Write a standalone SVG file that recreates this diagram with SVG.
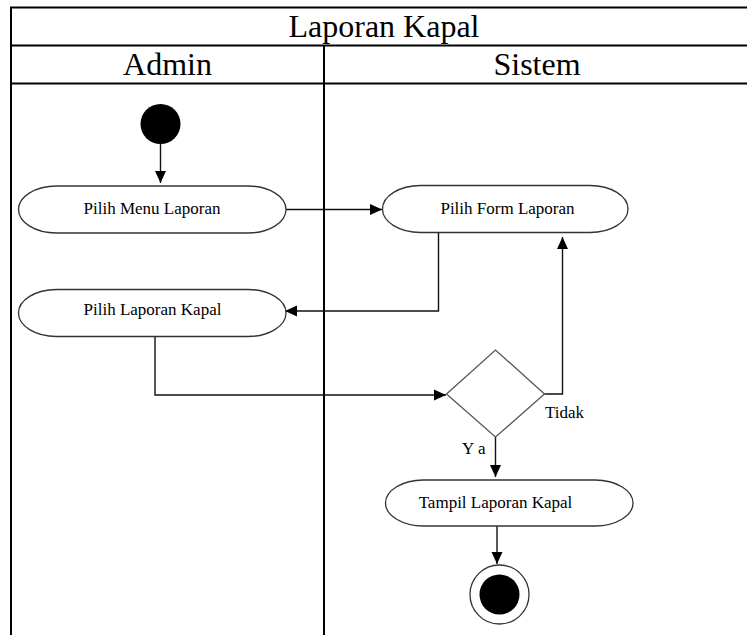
<svg xmlns="http://www.w3.org/2000/svg" width="747" height="635" viewBox="0 0 747 635">
  <style>
    .frame { stroke: #000; stroke-width: 2; fill: none; }
    .head { font-family: "Liberation Serif", "Times New Roman", serif; font-size: 32px; fill: #000; text-anchor: middle; }
    .act { fill: #fff; stroke: #333; stroke-width: 1.3; }
    .lbl { font-family: "Liberation Serif", "Times New Roman", serif; font-size: 17px; fill: #000; text-anchor: middle; }
    .guard { font-family: "Liberation Serif", "Times New Roman", serif; font-size: 17px; fill: #000; }
    .flow { fill: none; stroke: #111; stroke-width: 1.4; marker-end: url(#arrow); }
  </style>
  <defs>
    <marker id="arrow" viewBox="0 0 12 12" refX="12" refY="6" markerWidth="12" markerHeight="12" markerUnits="userSpaceOnUse" orient="auto">
      <path d="M0,0.5 L12,6 L0,11.5 z" fill="#000"/>
    </marker>
  </defs>
  <rect width="747" height="635" fill="#fff"/>

  <!-- swimlane table -->
  <g id="swimlanes">
    <path class="frame" d="M10,7.5 H747 M10,45.5 H747 M10,83.5 H747 M11,6.5 V635 M324,45.5 V635"/>
    <text class="head" x="384" y="37">Laporan Kapal</text>
    <text class="head" x="167.5" y="75">Admin</text>
    <text class="head" x="537" y="75">Sistem</text>
  </g>

  <!-- connectors -->
  <g id="connectors">
    <path class="flow" d="M160.5,144 V183"/>
    <path class="flow" d="M286,209.5 H382"/>
    <path class="flow" d="M438.5,232.5 V311 H285"/>
    <path class="flow" d="M155,337 V395 H446"/>
    <path class="flow" d="M544.5,394 H562.5 V237"/>
    <path class="flow" d="M495.5,436.5 V477"/>
    <path class="flow" d="M497,526 V564"/>
    <text class="guard" x="545" y="418">Tidak</text>
    <text class="guard" x="462" y="454">Y a</text>
  </g>

  <g id="start">
    <circle cx="160.5" cy="124" r="20" fill="#000"/>
  </g>

  <g id="pilih-menu-laporan">
    <rect class="act" x="18.5" y="186" width="267.5" height="47" rx="38" ry="23.5"/>
    <text class="lbl" x="152" y="214">Pilih Menu Laporan</text>
  </g>

  <g id="pilih-form-laporan">
    <rect class="act" x="382.5" y="185.5" width="245.5" height="47" rx="38" ry="23.5"/>
    <text class="lbl" x="507.5" y="214">Pilih Form Laporan</text>
  </g>

  <g id="pilih-laporan-kapal">
    <rect class="act" x="18.5" y="289.5" width="267.5" height="47" rx="38" ry="23.5"/>
    <text class="lbl" x="152.5" y="315">Pilih Laporan Kapal</text>
  </g>

  <g id="keputusan">
    <polygon points="446.5,394 495.5,350 544.5,394 495.5,437" fill="#fff" stroke="#555" stroke-width="1.3"/>
  </g>

  <g id="tampil-laporan-kapal">
    <rect class="act" x="385.5" y="480" width="247.5" height="46" rx="38" ry="23"/>
    <text class="lbl" x="495.5" y="507.5">Tampil Laporan Kapal</text>
  </g>

  <g id="end">
    <circle cx="499.5" cy="594.5" r="29.5" fill="#fff" stroke="#333" stroke-width="1.3"/>
    <circle cx="499.5" cy="594.5" r="20" fill="#000"/>
  </g>
</svg>
